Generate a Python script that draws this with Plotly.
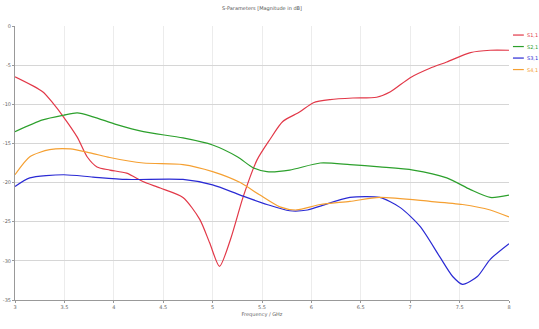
import plotly.graph_objects as go

freq_red = [3.0, 3.28, 3.38, 3.49, 3.63, 3.73, 3.83, 3.96, 4.13, 4.30, 4.47, 4.70, 4.87, 4.97, 5.07, 5.18, 5.31, 5.45, 5.58, 5.71, 5.88, 6.02, 6.19, 6.42, 6.66, 6.80, 7.0, 7.20, 7.37, 7.61, 7.81, 8.0]
s11 = [-6.5, -8.4, -9.8, -11.6, -14.2, -16.7, -18.0, -18.4, -18.8, -19.9, -20.7, -21.9, -24.7, -27.7, -30.7, -27.3, -21.8, -17.1, -14.5, -12.2, -11.0, -9.8, -9.4, -9.2, -9.1, -8.4, -6.6, -5.4, -4.6, -3.4, -3.1, -3.1]

freq_green = [3.0, 3.28, 3.49, 3.63, 3.79, 4.03, 4.30, 4.70, 5.0, 5.25, 5.41, 5.55, 5.78, 6.09, 6.39, 6.69, 7.03, 7.37, 7.61, 7.81, 8.0]
s21 = [-13.5, -12.0, -11.4, -11.1, -11.6, -12.6, -13.5, -14.3, -15.2, -16.7, -18.1, -18.6, -18.4, -17.5, -17.7, -18.0, -18.4, -19.4, -20.9, -21.9, -21.6]

freq_blue = [3.0, 3.15, 3.49, 3.79, 4.13, 4.70, 5.0, 5.28, 5.55, 5.78, 5.96, 6.09, 6.39, 6.69, 6.90, 7.10, 7.30, 7.43, 7.53, 7.68, 7.81, 8.0]
s31 = [-20.5, -19.4, -19.0, -19.3, -19.6, -19.6, -20.3, -21.6, -22.8, -23.6, -23.5, -23.0, -21.9, -21.9, -23.2, -25.6, -29.5, -32.0, -33.0, -32.0, -29.8, -27.8]

freq_orange = [3.0, 3.15, 3.35, 3.56, 3.76, 3.96, 4.30, 4.70, 5.0, 5.28, 5.48, 5.68, 5.85, 6.09, 6.39, 6.69, 7.20, 7.53, 7.81, 8.0]
s41 = [-19.0, -16.7, -15.8, -15.7, -16.2, -16.8, -17.5, -17.7, -18.6, -20.0, -21.6, -23.1, -23.5, -22.8, -22.4, -21.9, -22.4, -22.8, -23.5, -24.4]

x_ticks = [3, 3.5, 4, 4.5, 5, 5.5, 6, 6.5, 7, 7.5, 8]
y_ticks = [0, -5, -10, -15, -20, -25, -30, -35]

names = ["S1,1", "S2,1", "S3,1", "S4,1"]
colors = ["#e23848", "#2ca02c", "#2a2ad4", "#f5a032"]
xs_all = [freq_red, freq_green, freq_blue, freq_orange]
ys_all = [s11, s21, s31, s41]

fig = go.Figure()
for name, xs, ys, col in zip(names, xs_all, ys_all, colors):
    fig.add_trace(go.Scatter(x=xs, y=ys, name=name, mode="lines", showlegend=False,
                             line=dict(color=col, width=1.2, shape="spline", smoothing=0.7)))

# compact legend in the right margin
leg_y = [0.967, 0.925, 0.883, 0.841]
for name, col, ly in zip(names, colors, leg_y):
    fig.add_shape(type="line", xref="paper", yref="paper", x0=1.008, x1=1.030, y0=ly, y1=ly,
                  line=dict(color=col, width=1.2))
    fig.add_annotation(xref="paper", yref="paper", x=1.033, y=ly, text=name, showarrow=False,
                       xanchor="left", yanchor="middle", font=dict(size=5, color=col))

fig.update_layout(
    width=539, height=329,
    margin=dict(l=15, r=30, t=26, b=29, autoexpand=False),
    paper_bgcolor="white", plot_bgcolor="white",
    font=dict(family="DejaVu Sans", size=6, color="#666"),
    title=dict(text="S-Parameters [Magnitude in dB]", x=0.5, xref="paper", xanchor="center",
               y=0.98, yanchor="top", font=dict(size=5, color="#555")),
    showlegend=False,
)
fig.update_xaxes(range=[3, 8], tickvals=x_ticks, ticktext=[str(t) for t in x_ticks],
                 showgrid=True, gridcolor="#ececec", gridwidth=1,
                 showline=True, linecolor="#999", ticks="outside", ticklen=2, tickcolor="#999",
                 tickfont=dict(size=5),
                 title=dict(text="Frequency / GHz", font=dict(size=5), standoff=3), zeroline=False)
fig.update_yaxes(range=[-35, 0], tickvals=y_ticks, ticktext=[str(t) for t in y_ticks],
                 showgrid=True, gridcolor="#d6d6d6", gridwidth=1,
                 showline=True, linecolor="#999", ticks="outside", ticklen=2, tickcolor="#999",
                 tickfont=dict(size=5), zeroline=False)

# remove the default 8px page margin so the figure sits at the window's corner
fig.write_html("out.html", config={"displayModeBar": False},
               post_script="document.body.style.margin='0';")
